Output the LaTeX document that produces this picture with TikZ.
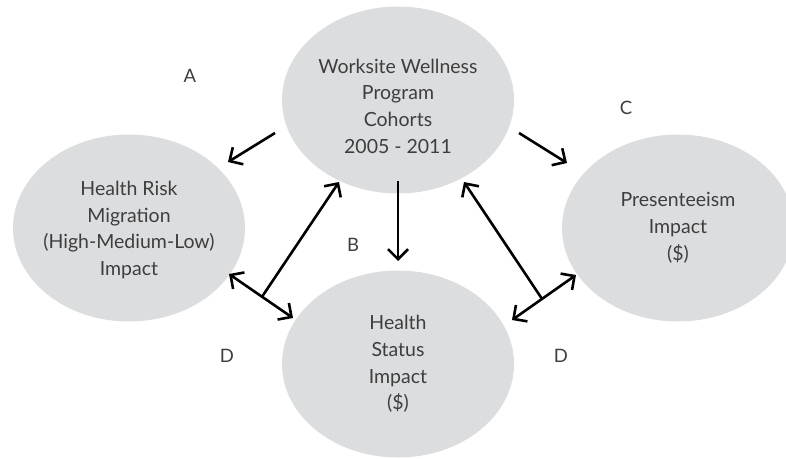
\documentclass[tikz,border=0pt]{standalone}
\usepackage{fontspec}
\setmainfont{Lato}
\usetikzlibrary{arrows.meta,shapes.geometric,calc}
\definecolor{bubblefill}{RGB}{220,221,223}
\definecolor{ink}{RGB}{62,62,62}

\begin{document}
\begin{tikzpicture}[x=1pt,y=-1pt,
  bubble/.style={ellipse, fill=bubblefill, draw=none, inner sep=0pt,
                 minimum width=232pt, minimum height=187pt},
  caption/.style={align=center, inner sep=0pt, text=ink,
                  font=\fontsize{19.5}{26.7}\selectfont},
  letter/.style={inner sep=0pt, text=ink, font=\fontsize{18.5}{22}\selectfont},
  conn/.style={line width=2.6pt, draw=black},
  arr/.style={conn, -{Straight Barb[length=10pt,width=20pt]}},
  arrboth/.style={conn, {Straight Barb[length=10pt,width=20pt]}-{Straight Barb[length=10pt,width=20pt]}}
]
\useasboundingbox (0,0) rectangle (786,458);

% the four outcome bubbles
\node[bubble] (cohort)  at (398,100) {};
\node[bubble] (risk)    at (129,228) {};
\node[bubble] (present) at (678,228) {};
\node[bubble] (status)  at (398,364) {};

% bubble captions
\node[caption] (cohorttxt)  at ($(cohort)+(0,6)$)
  {Worksite Wellness\\Program\\Cohorts\\2005 - 2011};
\node[caption] (risktxt)    at ($(risk)+(0,2)$)
  {Health Risk\\Migration\\(High-Medium-Low)\\Impact};
\node[caption] (presenttxt) at ($(present)+(0,0)$)
  {Presenteeism\\Impact\\(\$)};
\node[caption] (statustxt)  at ($(status)+(0,0)$)
  {Health\\Status\\Impact\\(\$)};

% path letters
\node[letter] (la)  at (190,76)  {A};
\node[letter] (lb)  at (353,245) {B};
\node[letter] (lc)  at (626,108) {C};
\node[letter] (ld1) at (227,356) {D};
\node[letter] (ld2) at (561,356) {D};

% connector end points
\coordinate (a1) at (275,133);  \coordinate (a2) at (228,162);
\coordinate (b1) at (398,181);  \coordinate (b2) at (398,261);
\coordinate (c1) at (519,133);  \coordinate (c2) at (567,163);
\coordinate (dl1) at (229,274); \coordinate (dl2) at (293,318);
\coordinate (jl) at ($(dl1)!0.516!(dl2)$); \coordinate (dlt) at (339,182);
\coordinate (dr1) at (512,320); \coordinate (dr2) at (576,275);
\coordinate (jr) at ($(dr1)!0.469!(dr2)$); \coordinate (drt) at (464,182);

% paths A, B, C
\draw[arr] (a1) -- (a2);
\draw[arr] (b1) -- (b2);
\draw[arr] (c1) -- (c2);

% paths D
\draw[arrboth] (dl1) -- (dl2);
\draw[arr] (jl) -- (dlt);
\draw[arrboth] (dr1) -- (dr2);
\draw[arr] (jr) -- (drt);
\end{tikzpicture}
\end{document}
